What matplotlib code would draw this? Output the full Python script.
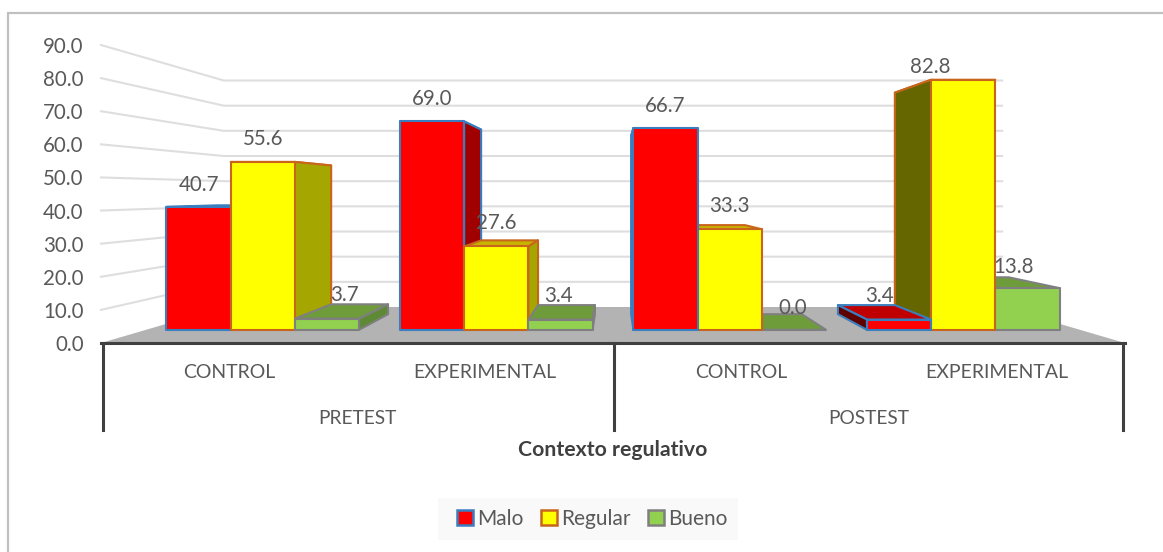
import numpy as np
import matplotlib
matplotlib.use("Agg")
import matplotlib.pyplot as plt
from matplotlib.patches import Polygon, Patch, Rectangle

plt.rcParams['font.family'] = ['Lato', 'DejaVu Sans']

# data
phases = ['PRETEST', 'POSTEST']
groups = ['CONTROL', 'EXPERIMENTAL', 'CONTROL', 'EXPERIMENTAL']
malo = [40.7, 69.0, 66.7, 3.4]
regular = [55.6, 27.6, 33.3, 82.8]
bueno = [3.7, 3.4, 0.0, 13.8]
series_names = ['Malo', 'Regular', 'Bueno']
y_ticks = [0, 10, 20, 30, 40, 50, 60, 70, 80, 90]
x_title = 'Contexto regulativo'

# style per series: front, edge, right side, left side, top
styles = [
    ('#FF0000', '#3A7EBF', '#A00000', '#5E0000', '#C00000'),
    ('#FFFF00', '#C8651B', '#A6A600', '#666600', '#C8B400'),
    ('#92D050', '#7F7F7F', '#5F8A35', '#5F8A35', '#6F9C3B'),
]

# label nudges in pixels from the top centre of each bar, same order as the data
label_dx = [[0, 0, 0, -20], [0, 0, 0, -33], [17, -2, -1, -14]]
label_dy = [[22, 22, 22, 24], [23, 23, 23, 13], [24, 24, 22, 21]]

# fake perspective, depth factor 1 = axis plane
VP_X, VP_Y = 2.0, 45.3
BAR_FRONT, BAR_BACK, WALL = 0.912, 0.808, 0.76
BAR_W = 0.275


def project(x, v, f):
    return (VP_X + (x - VP_X) * f, VP_Y + (v - VP_Y) * f)


def draw_bar(ax, x0, x1, v, style, z):
    front, edge, right, left, top = style
    lw = 1.5
    a, b = project(x0, 0, BAR_FRONT), project(x1, 0, BAR_FRONT)
    c, d = project(x1, v, BAR_FRONT), project(x0, v, BAR_FRONT)
    # side towards the vanishing point
    if x1 < VP_X:
        sx, side = x1, right
    else:
        sx, side = x0, left
    pts_side = [project(sx, 0, BAR_FRONT), project(sx, 0, BAR_BACK),
                project(sx, v, BAR_BACK), project(sx, v, BAR_FRONT)]
    pts_top = [d, c, project(x1, v, BAR_BACK), project(x0, v, BAR_BACK)]
    ax.add_patch(Polygon(pts_top, fc=top, ec=edge, lw=lw, zorder=z, joinstyle='round'))
    ax.add_patch(Polygon(pts_side, fc=side, ec=edge, lw=lw, zorder=z + 0.1, joinstyle='round'))
    ax.add_patch(Polygon([a, b, c, d], fc=front, ec=edge, lw=lw, zorder=z + 0.2, joinstyle='round'))


fig = plt.figure(figsize=(11.63, 5.52), dpi=100)
ax = fig.add_axes([101 / 1163, (552 - 343) / 552, 1024 / 1163, 298 / 552])
ax.set_xlim(0, 4)
ax.set_ylim(0, 90)
ax.patch.set_visible(False)

# outer chart frame
fig.add_artist(Rectangle((8 / 1163, -0.01), 1.1, (552 - 13) / 552 + 0.01, transform=fig.transFigure,
                         fc='none', ec='#C0C0C0', lw=1.6))

# wall grid and floor
for v in y_ticks[1:]:
    a = project(0, v, 1)
    b = project(0, v, WALL)
    c = project(4, v, WALL)
    ax.plot([a[0], b[0], c[0]], [a[1], b[1], c[1]], color='#DEDEDE', lw=1.5, zorder=1, clip_on=False)
floor = [project(0, 0, 1), project(4, 0, 1), project(4, 0, WALL), project(0, 0, WALL)]
ax.add_patch(Polygon(floor, fc='#B3B3B3', ec='none', zorder=2, clip_on=False))

# bars, painted from the outside towards the vanishing point
values = [malo, regular, bueno]
bars = []
for s in range(3):
    for g in range(4):
        x0 = g + 0.5 + (s - 1.5) * BAR_W
        bars.append((abs(x0 + BAR_W / 2 - VP_X), x0, s, g))
bars.sort(key=lambda b: -b[0])
z = 3
for dist, x0, s, g in bars:
    draw_bar(ax, x0, x0 + BAR_W, values[s][g], styles[s], z)
    z += 1

# data labels
for s in range(3):
    for g in range(4):
        v = values[s][g]
        x0 = g + 0.5 + (s - 1.5) * BAR_W
        ax.annotate('%.1f' % v, project(x0 + BAR_W / 2, v, BAR_FRONT),
                    xytext=(label_dx[s][g], label_dy[s][g]), textcoords='offset pixels',
                    ha='center', va='center', fontsize=14.8, color='#595959', zorder=100)

# axes
ax.set_yticks(y_ticks)
ax.set_yticklabels(['%.1f' % t for t in y_ticks], fontsize=14.8, color='#595959')
ax.tick_params(axis='y', length=0, pad=12.5)
ax.set_xticks([0.5, 1.5, 2.5, 3.5])
ax.set_xticklabels(groups, fontsize=14, color='#595959')
ax.tick_params(axis='x', length=0, pad=15)
for side in ['left', 'right', 'top']:
    ax.spines[side].set_visible(False)
ax.spines['bottom'].set_color('#404040')
ax.spines['bottom'].set_linewidth(2.2)
ax.spines['bottom'].set_zorder(50)

# multi level category axis
tr = ax.get_xaxis_transform()
for x in [0.006, 2.002, 3.991]:
    ax.plot([x, x], [0, -86.5 / 298], transform=tr, color='#404040', lw=2.2, clip_on=False, zorder=50)
for x, name in zip([1, 3], phases):
    ax.annotate(name, (x, 0), xycoords=tr, xytext=(0, -75.5), textcoords='offset pixels',
                ha='center', va='center', fontsize=13.8, color='#595959')
ax.annotate(x_title, (2, 0), xycoords=tr, xytext=(0, -107.5), textcoords='offset pixels',
            ha='center', va='center', fontsize=15.3, fontweight='bold', color='#404040')

# legend, its background sits off centre from the entries
fig.add_artist(Rectangle((438 / 1163, (552 - 540) / 552), 300 / 1163, 42 / 552,
                         transform=fig.transFigure, fc='#F9F9F9', ec='none'))
handles = [Patch(fc=st[0], ec=st[1], lw=1.8) for st in styles]
fig.legend(handles, series_names, loc='center', bbox_to_anchor=(592.5 / 1163, (552 - 519) / 552),
           ncol=3, frameon=False, fontsize=15, labelcolor='#595959', handlelength=0.75, handleheight=0.75,
           handletextpad=0.2, columnspacing=0.85)

fig.savefig('out.png', dpi=100)
